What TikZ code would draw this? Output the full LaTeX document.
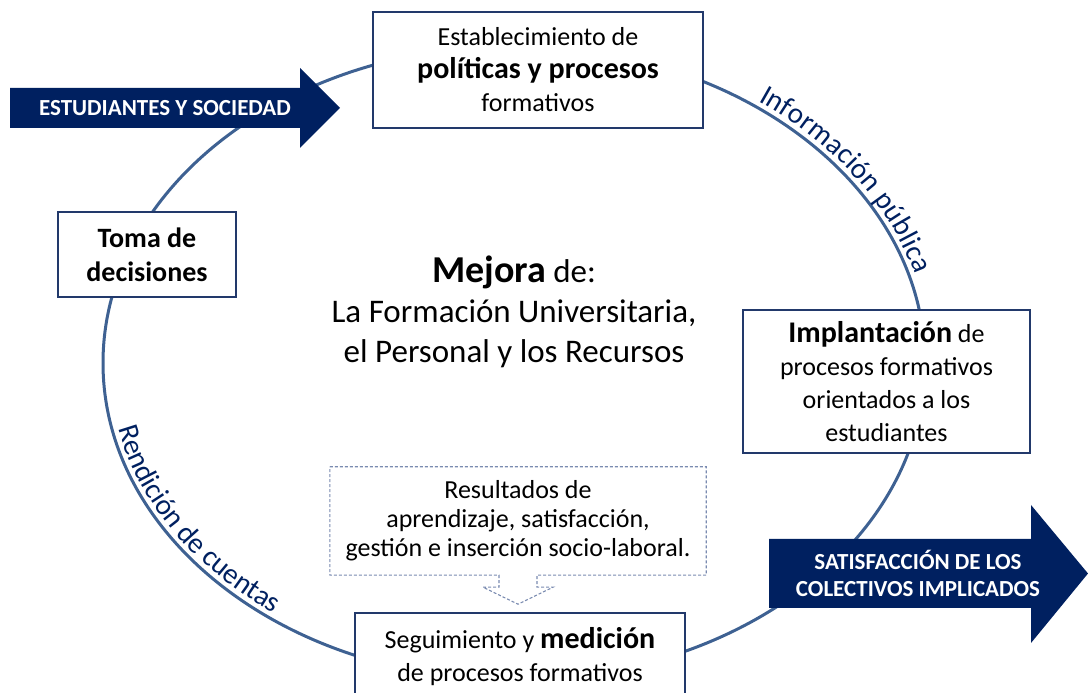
\documentclass[tikz,border=0pt]{standalone}
\usepackage{fontspec}
\setmainfont{Carlito}
\usepackage{tikz}
\usetikzlibrary{calc,decorations.text}
\definecolor{navy}{HTML}{002060}
\definecolor{boxline}{HTML}{22396B}
\definecolor{ring}{HTML}{3E6192}
\definecolor{notes}{HTML}{7A8BB0}
\newcommand{\keyw}[1]{{\fontsize{30}{33}\selectfont\bfseries #1}}

\begin{document}
\begin{tikzpicture}[
  x=1pt, y=1pt,
  every node/.style={inner sep=0pt, align=center},
  stage/.style={draw=boxline, line width=1.8pt, fill=white,
                font=\fontsize{26}{33}\selectfont},
  flowarr/.style={fill=navy},
  flowtxt/.style={text=white, font=\bfseries\fontsize{23}{27}\selectfont},
  note/.style={draw=notes, line width=1.1pt, dash pattern=on 3pt off 2pt},
  arclbl/.style={decorate, decoration={text along path, text align=center,
                 raise=6pt, text color=navy}}]

\useasboundingbox (0,0) rectangle (1088,693);
\clip (0,0) rectangle (1088,693);

% the cycle
\coordinate (ctr) at (514,330);
\draw[ring, line width=3pt] (ctr) ellipse [x radius=411, y radius=317];

\path[arclbl, decoration={text={|\fontsize{29}{32}\selectfont|Información pública}}]
  ($(ctr)+(63:411 and 317)$) arc[start angle=63, end angle=5, x radius=411, y radius=317];
\path[arclbl, decoration={text={|\fontsize{29}{32}\selectfont|Rendición de cuentas}}]
  ($(ctr)+(181:411 and 317)$) arc[start angle=181, end angle=243, x radius=411, y radius=317];

% input and output arrows
\fill[flowarr] (10,565) -- (300,565) -- (300,545) -- (340,585)
  -- (300,625) -- (300,605) -- (10,605) -- cycle;
\node[flowtxt] (insoc) at (165,585) {ESTUDIANTES Y SOCIEDAD};

\fill[flowarr] (769,85) -- (1031,85) -- (1031,50) -- (1088,119.5)
  -- (1031,188) -- (1031,154) -- (769,154) -- cycle;
\node[flowtxt] (outsat) at (918,119.5) {SATISFACCIÓN DE LOS\\COLECTIVOS IMPLICADOS};

% stages of the cycle
\node[stage, minimum width=330pt, minimum height=116pt] (estab) at (538,623)
  {Establecimiento de\\\keyw{políticas y procesos}\\formativos};
\node[stage, minimum width=287pt, minimum height=143pt] (impl) at (886.5,311.5)
  {\keyw{Implantación} de\\procesos formativos\\orientados a los\\estudiantes};
\node[stage, minimum width=330pt, minimum height=87pt] (segui) at (520,36.5)
  {Seguimiento y \keyw{medición}\\de procesos formativos};
\node[stage, minimum width=178pt, minimum height=85pt,
      font=\bfseries\fontsize{28}{34}\selectfont] (toma) at (147,438.5)
  {Toma de\\decisiones};

% centre
\node[font=\fontsize{33}{40}\selectfont] (mejora) at (514,381)
  {{\fontsize{38}{40}\selectfont\textbf{Mejora}} de:\\
   La Formación Universitaria,\\el Personal y los Recursos};

% results feeding the measurement
\node[minimum width=376pt, minimum height=108pt,
      font=\fontsize{26}{29}\selectfont] (res) at (518,172)
  {Resultados de\\aprendizaje, satisfacción,\\gestión e inserción socio-laboral.};
\draw[note] (res.north west) -- (res.north east) -- (res.south east)
  -- ($(res.south)+(19,0)$) -- ++(0,-12) -- ++(16,0) -- ($(res.south)+(0,-29)$)
  -- ($(res.south)+(-35,-12)$) -- ++(16,0) -- ($(res.south)+(-19,0)$)
  -- (res.south west) -- cycle;

\end{tikzpicture}
\end{document}
